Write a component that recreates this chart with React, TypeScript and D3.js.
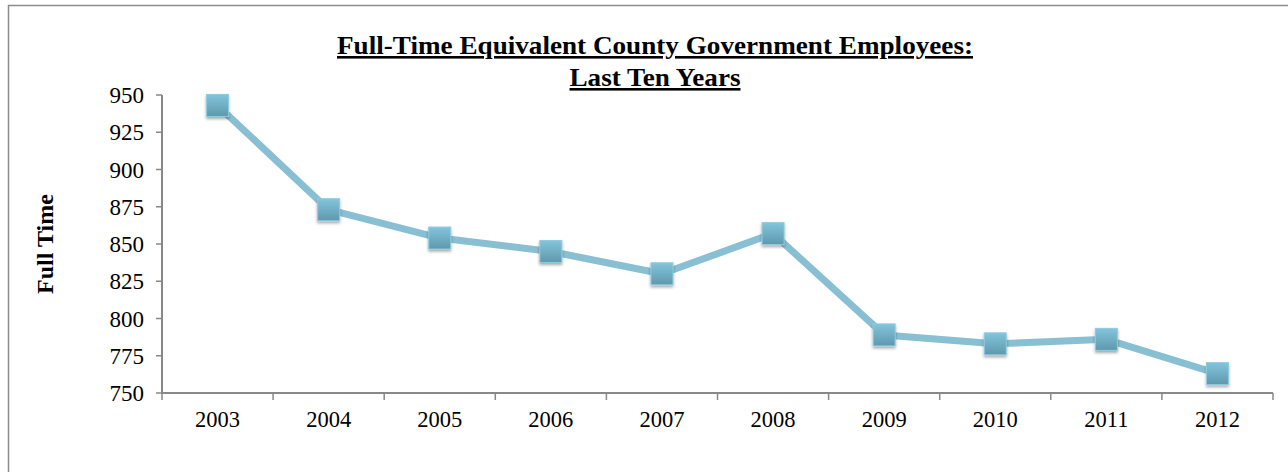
import * as d3 from 'd3';

const years = ['2003', '2004', '2005', '2006', '2007', '2008', '2009', '2010', '2011', '2012'];
const fullTime = [943, 873, 854, 845, 830, 857, 789, 783, 786, 763];
const yTicks = [750, 775, 800, 825, 850, 875, 900, 925, 950];

const W = 1288;
const H = 472;
const margin = { left: 162, right: 15, top: 95, bottom: 79 };

export default function App() {
  const x = d3
    .scaleBand<string>()
    .domain(years)
    .range([margin.left, W - margin.right]);
  const y = d3
    .scaleLinear()
    .domain([750, 950])
    .range([H - margin.bottom, margin.top]);

  const line = d3
    .line<number>()
    .x((_, i) => (x(years[i]) ?? 0) + x.bandwidth() / 2)
    .y((d) => y(d));

  const font = '"Liberation Serif", "Times New Roman", serif';
  const axisColor = '#888888';
  const boundaries = years.map((yr) => x(yr) ?? 0).concat([W - margin.right]);

  return (
    <svg
      width={W}
      height={H}
      style={{ position: 'absolute', left: 0, top: 0, background: '#fff' }}
      fontFamily={font}
    >
      <defs>
        <linearGradient id="mk" x1="0" y1="0" x2="0" y2="1">
          <stop offset="0%" stopColor="#82c5dc" />
          <stop offset="100%" stopColor="#5f98ad" />
        </linearGradient>
        <filter id="sh" x="-50%" y="-50%" width="200%" height="200%">
          <feDropShadow dx="0" dy="2" stdDeviation="1.5" floodColor="#000" floodOpacity="0.35" />
        </filter>
      </defs>

      {/* chart frame */}
      <rect x={8.5} y={5.5} width={W + 20} height={H + 20} fill="none" stroke="#8c8c8c" strokeWidth={1.5} />

      {/* title */}
      <text
        x={655}
        y={54}
        textAnchor="middle"
        fontWeight="bold"
        fontSize={26}
        textDecoration="underline"
        textLength={636}
        lengthAdjust="spacingAndGlyphs"
      >
        Full-Time Equivalent County Government Employees:
      </text>
      <text
        x={655}
        y={86}
        textAnchor="middle"
        fontWeight="bold"
        fontSize={26}
        textDecoration="underline"
        textLength={171}
        lengthAdjust="spacingAndGlyphs"
      >
        Last Ten Years
      </text>

      {/* y axis label */}
      <text
        transform={`translate(53, ${(margin.top + H - margin.bottom) / 2}) rotate(-90)`}
        textAnchor="middle"
        fontWeight="bold"
        fontSize={24}
      >
        Full Time
      </text>

      {/* y axis */}
      <line x1={margin.left} x2={margin.left} y1={y(950)} y2={y(750)} stroke={axisColor} strokeWidth={2} />
      {yTicks.map((t) => (
        <g key={t}>
          <line x1={margin.left - 6} x2={margin.left} y1={y(t)} y2={y(t)} stroke={axisColor} strokeWidth={1.5} />
          <text x={margin.left - 18} y={y(t)} dy="0.35em" textAnchor="end" fontSize={23}>
            {t}
          </text>
        </g>
      ))}

      {/* x axis */}
      <line x1={margin.left} x2={W - margin.right} y1={y(750)} y2={y(750)} stroke={axisColor} strokeWidth={2} />
      {boundaries.map((bx, i) => (
        <line key={i} x1={bx} x2={bx} y1={y(750)} y2={y(750) + 7} stroke={axisColor} strokeWidth={1.5} />
      ))}
      {years.map((yr) => (
        <text key={yr} x={(x(yr) ?? 0) + x.bandwidth() / 2} y={y(750) + 34} textAnchor="middle" fontSize={22.5}>
          {yr}
        </text>
      ))}

      {/* series */}
      <path d={line(fullTime) ?? ''} fill="none" stroke="#88bfd2" strokeWidth={7} strokeLinejoin="round" />
      {fullTime.map((v, i) => (
        <rect
          key={years[i]}
          x={(x(years[i]) ?? 0) + x.bandwidth() / 2 - 11}
          y={y(v) - 11}
          width={22}
          height={22}
          fill="url(#mk)"
          stroke="#8fcbe0"
          strokeWidth={1}
          filter="url(#sh)"
        />
      ))}
    </svg>
  );
}
